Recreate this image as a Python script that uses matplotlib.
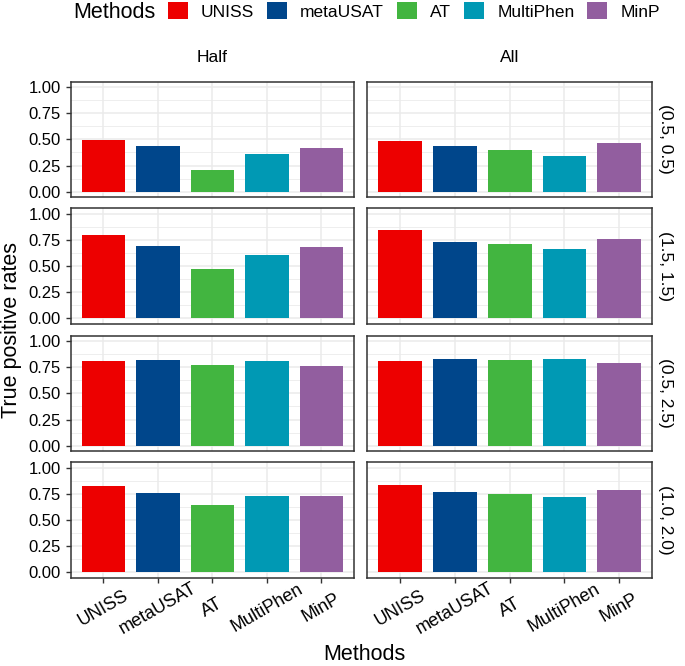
import matplotlib
matplotlib.use("Agg")
import matplotlib.pyplot as plt
from matplotlib.patches import Patch
import numpy as np

plt.rcParams['font.family'] = ['Liberation Sans', 'DejaVu Sans']

methods = ["UNISS", "metaUSAT", "AT", "MultiPhen", "MinP"]
colors = ["#ED0000", "#00468B", "#42B540", "#0099B4", "#925E9F"]
columns = ["Half", "All"]
scenarios = ["(0.5, 0.5)", "(1.5, 1.5)", "(0.5, 2.5)", "(1.0, 2.0)"]

half_05_05 = [0.49, 0.433, 0.208, 0.359, 0.42]
half_15_15 = [0.80, 0.693, 0.473, 0.608, 0.677]
half_05_25 = [0.807, 0.816, 0.772, 0.804, 0.76]
half_10_20 = [0.826, 0.754, 0.647, 0.726, 0.732]

all_05_05 = [0.484, 0.436, 0.397, 0.34, 0.465]
all_15_15 = [0.84, 0.73, 0.705, 0.658, 0.759]
all_05_25 = [0.813, 0.826, 0.816, 0.823, 0.79]
all_10_20 = [0.836, 0.763, 0.744, 0.722, 0.785]

data = {
    "Half": [half_05_05, half_15_15, half_05_25, half_10_20],
    "All": [all_05_05, all_15_15, all_05_25, all_10_20],
}

W, H = 685, 666
fig = plt.figure(figsize=(W / 100, H / 100), dpi=100)

col_left = [70.7, 367.3]
col_width = [283.3, 284.7]
row_top = [81.7, 208.3, 335.7, 462.3]
row_h = 115.3

x = np.arange(len(methods))
for ci, col in enumerate(columns):
    for ri, scen in enumerate(scenarios):
        left = col_left[ci] / W
        bottom = 1 - (row_top[ri] + row_h) / H
        ax = fig.add_axes([left, bottom, col_width[ci] / W, row_h / H])
        ax.set_facecolor("white")
        ax.set_xlim(-0.6, len(methods) - 0.4)
        ax.set_ylim(-0.05, 1.05)
        for yv in np.arange(0.125, 1.0, 0.25):
            ax.axhline(yv, color="#EBEBEB", lw=0.6, zorder=0)
        for yv in np.arange(0, 1.01, 0.25):
            ax.axhline(yv, color="#EBEBEB", lw=1.1, zorder=0)
        for xv in x:
            ax.axvline(xv, color="#EBEBEB", lw=1.1, zorder=0)
        ax.bar(x, data[col][ri], width=0.8, color=colors, zorder=2)
        for s in ax.spines.values():
            s.set_color("#333333")
            s.set_linewidth(1.1)
        ax.set_yticks([0, 0.25, 0.5, 0.75, 1.0])
        ax.set_xticks(x)
        ax.tick_params(colors="#333333", length=3.5, width=1.0, labelcolor="black")
        if ci == 0:
            ax.set_yticklabels(["0.00", "0.25", "0.50", "0.75", "1.00"], fontsize=12)
        else:
            ax.tick_params(axis="y", left=False, labelleft=False)
        if ri == len(scenarios) - 1:
            ax.set_xticklabels(methods, rotation=30, ha="center", va="center",
                               fontsize=13)
            ax.tick_params(axis="x", pad=18.5)
        else:
            ax.tick_params(axis="x", bottom=False, labelbottom=False)
        if ri == 0:
            fig.text((col_left[ci] + col_width[ci] / 2) / W, 1 - 58 / H, col,
                     ha="center", va="center", fontsize=12.5)
        if ci == 1:
            fig.text(666 / W, 1 - (row_top[ri] + row_h / 2) / H, scen,
                     rotation=270, ha="center", va="center", fontsize=12.5)

fig.text(12 / W, 1 - 329.5 / H, "True positive rates", rotation=90,
         ha="center", va="center", fontsize=15.5)
fig.text(364 / W, 1 - 655 / H, "Methods", ha="center", va="center", fontsize=15.5)

# legend
fig.text(73 / W, 1 - 12 / H, "Methods", ha="left", va="center", fontsize=15.5)
handles = [Patch(facecolor=c, edgecolor="none") for c in colors]
fig.legend(handles, methods, loc="center left",
           bbox_to_anchor=(168 / W, 1 - 11 / H), ncol=5, frameon=False,
           fontsize=12.5, handlelength=1.15, handleheight=1.15,
           handletextpad=0.75, columnspacing=0.75, borderpad=0, borderaxespad=0)

fig.savefig("out.png", dpi=100)
